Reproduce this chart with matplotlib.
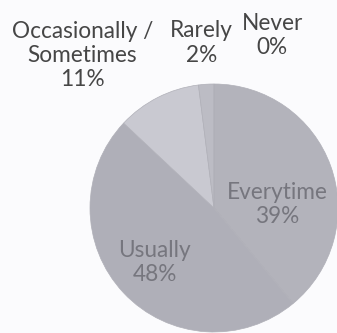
import matplotlib
matplotlib.use("Agg")
import matplotlib.pyplot as plt

categories = ["Everytime", "Usually", "Occasionally /\nSometimes", "Rarely", "Never"]
values = [39, 48, 11, 2, 0]
pct_labels = ["39%", "48%", "11%", "2%", "0%"]
colors = ["#b3b3bb", "#afafb8", "#c9c9d1", "#bcbcc4", "#bcbcc4"]

# label positions in data units (pie radius = 1)
label_pos = [(0.51, 0.03), (-0.48, -0.44), (-1.06, 1.23), (-0.10, 1.33), (0.47, 1.39)]
label_colors = ["#76767e", "#76767e", "#464646", "#464646", "#464646"]

fig = plt.figure(figsize=(3.37, 3.33), dpi=100)
fig.patch.set_facecolor("#fbfbfd")
cx, cy, r = 214, 208, 124
W, H = 337, 333
ax = fig.add_axes([(cx - r) / W, (H - cy - r) / H, 2 * r / W, 2 * r / H])
ax.pie(values, colors=colors, startangle=90, counterclock=False, radius=1,
       wedgeprops=dict(linewidth=0.5, edgecolor="#b0b0b8"))
ax.set_xlim(-1, 1)
ax.set_ylim(-1, 1)
ax.set_aspect("equal")
ax.axis("off")

for cat, pct, (x, y), c in zip(categories, pct_labels, label_pos, label_colors):
    ax.text(x, y, f"{cat}\n{pct}", ha="center", va="center", color=c,
            fontsize=16.3, family="Lato", linespacing=1.2, clip_on=False)

fig.savefig("out.png", dpi=100, facecolor=fig.get_facecolor())
